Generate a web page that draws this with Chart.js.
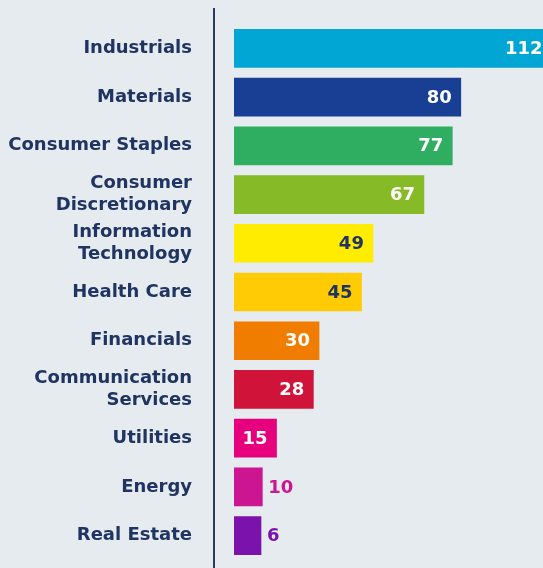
<!DOCTYPE html>
<html>
<head>
<meta charset="utf-8">
<script src="https://cdn.jsdelivr.net/npm/chart.js@4"></script>
<style>
  html, body { margin: 0; padding: 0; background: #e6ebf0; }
  #wrap { width: 543px; height: 568px; position: relative; }
</style>
</head>
<body>
<div id="wrap"><canvas id="c"></canvas></div>
<script>
const categories = [
  'Industrials',
  'Materials',
  'Consumer Staples',
  ['Consumer', 'Discretionary'],
  ['Information', 'Technology'],
  'Health Care',
  'Financials',
  ['Communication', 'Services'],
  'Utilities',
  'Energy',
  'Real Estate'
];
const values = [112, 80, 77, 67, 49, 45, 30, 28, 15, 10, 6];
const barColors = ['#02a6d5', '#183f93', '#2fae62', '#86bb27', '#ffec00', '#ffcb05', '#f07d00', '#cf1339', '#e6007e', '#cc1590', '#7b12ac'];
const valueLabelColors = ['#ffffff', '#ffffff', '#ffffff', '#ffffff', '#1f3461', '#1f3461', '#ffffff', '#ffffff', '#ffffff', '#cc1590', '#7b12ac'];
const xAxisMax = 109;

const NAVY = '#1f3461';
const FONT = 'bold 18px "DejaVu Sans"';

const bgPlugin = {
  id: 'bg',
  beforeDraw(chart) {
    const ctx = chart.ctx;
    ctx.save();
    ctx.fillStyle = '#e6ebf0';
    ctx.fillRect(0, 0, chart.width, chart.height);
    ctx.restore();
  }
};

const axisLinePlugin = {
  id: 'axisLine',
  afterDraw(chart) {
    const ctx = chart.ctx;
    const a = chart.chartArea;
    const x = a.left - 20;
    ctx.save();
    ctx.strokeStyle = '#2b3a63';
    ctx.lineWidth = 2;
    ctx.beginPath();
    ctx.moveTo(x, a.top - 16);
    ctx.lineTo(x, chart.height);
    ctx.stroke();
    ctx.restore();
  }
};

const valueLabelPlugin = {
  id: 'valueLabels',
  afterDatasetsDraw(chart) {
    const ctx = chart.ctx;
    const meta = chart.getDatasetMeta(0);
    ctx.save();
    ctx.font = FONT;
    ctx.textBaseline = 'middle';
    meta.data.forEach((bar, i) => {
      const len = bar.x - bar.base;
      const txt = String(values[i]);
      ctx.fillStyle = valueLabelColors[i];
      if (len > 36) {
        ctx.textAlign = 'right';
        ctx.fillText(txt, bar.x - 9, bar.y + 1);
      } else {
        ctx.textAlign = 'left';
        ctx.fillText(txt, bar.x + 6, bar.y + 1);
      }
    });
    ctx.restore();
  }
};

new Chart(document.getElementById('c'), {
  type: 'bar',
  data: {
    labels: categories,
    datasets: [{
      data: values,
      backgroundColor: barColors,
      borderWidth: 0,
      barThickness: 38,
      minBarLength: 27
    }]
  },
  options: {
    indexAxis: 'y',
    responsive: true,
    maintainAspectRatio: false,
    animation: false,
    layout: { padding: { top: 24, bottom: 8, left: 0, right: 0 } },
    plugins: {
      legend: { display: false },
      tooltip: { enabled: false }
    },
    scales: {
      x: {
        display: false,
        min: 0,
        max: xAxisMax
      },
      y: {
        grid: { display: false, drawTicks: false },
        border: { display: false },
        ticks: {
          color: NAVY,
          padding: 42,
          font: { family: '"DejaVu Sans"', size: 18, weight: 'bold', lineHeight: 1.25 }
        },
        afterFit(scale) {
          scale.width = 234;
          scale.paddingTop = 0;
          scale.paddingBottom = 0;
        }
      }
    }
  },
  plugins: [bgPlugin, axisLinePlugin, valueLabelPlugin]
});
</script>
</body>
</html>
